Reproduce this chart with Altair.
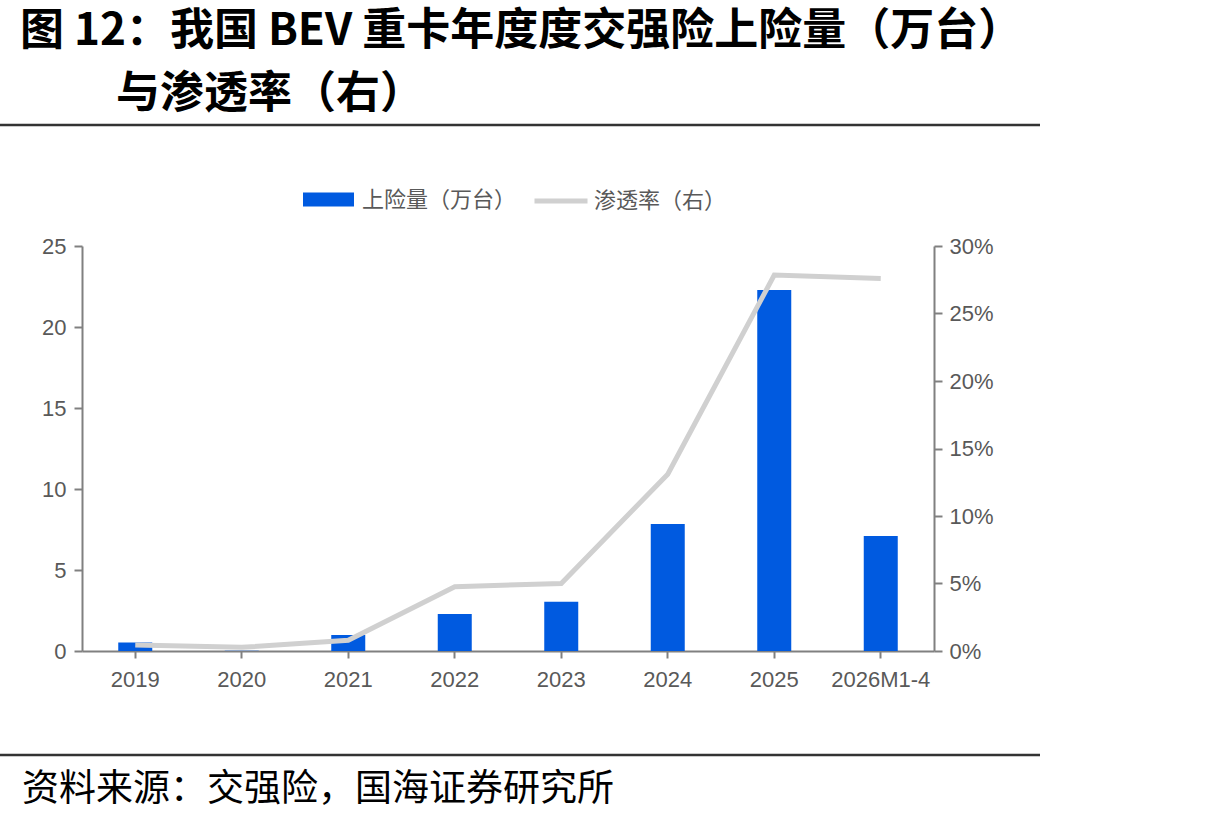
import altair as alt
import pandas as pd

# Annual BEV heavy-truck compulsory insurance registrations and penetration
categories = ["2019", "2020", "2021", "2022", "2023", "2024", "2025", "2026M1-4"]
registrations = [0.52, 0.02, 0.98, 2.28, 3.04, 7.84, 22.28, 7.10]  # 万台
penetration = [0.0044, 0.0027, 0.0080, 0.0476, 0.0500, 0.1310, 0.2785, 0.2760]

bar_name = "上险量（万台）"
line_name = "渗透率（右）"

title_line1 = "图 12：我国 BEV 重卡年度度交强险上险量（万台）"
title_line2 = "与渗透率（右）"
source_text = "资料来源：交强险，国海证券研究所"

W, H = 852, 405
PAD_L, PAD_T = 82, 246
TOTAL_W, TOTAL_H = 1214, 822

df = pd.DataFrame({
    "cat": categories,
    "reg": registrations,
    "pen": penetration,
    "bar_s": [bar_name] * len(categories),
    "line_s": [line_name] * len(categories),
})

AXIS_GRAY = "#808080"
LABEL_GRAY = "#595959"
LATIN = "Liberation Sans"
CJK = "Noto Sans CJK SC"
TICK_FONT = 22

x_enc = alt.X(
    "cat:N",
    sort=categories,
    scale=alt.Scale(paddingInner=0, paddingOuter=0),
    axis=alt.Axis(title=None, labelAngle=0, labelFont=LATIN, labelFontSize=TICK_FONT,
                  labelColor=LABEL_GRAY, domainColor=AXIS_GRAY, domainWidth=2,
                  tickColor=AXIS_GRAY, tickWidth=2, tickSize=7, labelPadding=11),
)

bars = alt.Chart(df).mark_bar(size=34).encode(
    x=x_enc,
    y=alt.Y("reg:Q", scale=alt.Scale(domain=[0, 25]),
            axis=alt.Axis(title=None, values=[0, 5, 10, 15, 20, 25], grid=False,
                          labelFont=LATIN, labelFontSize=TICK_FONT, labelColor=LABEL_GRAY,
                          domainColor=AXIS_GRAY, domainWidth=2, tickColor=AXIS_GRAY,
                          tickWidth=2, tickSize=8, labelPadding=8)),
    fill=alt.Fill("bar_s:N", scale=alt.Scale(range=["#005ae0"]),
                  legend=alt.Legend(orient="none", legendX=221, legendY=-72, title=None,
                                    symbolType="M-1,-0.27L1,-0.27L1,0.27L-1,0.27Z",
                                    symbolSize=2601, symbolStrokeWidth=0,
                                    labelFont=CJK, labelFontSize=22,
                                    labelColor=LABEL_GRAY, labelOffset=8)),
)

line = alt.Chart(df).mark_line(strokeWidth=5).encode(
    x=alt.X("cat:N", sort=categories),
    y=alt.Y("pen:Q", scale=alt.Scale(domain=[0, 0.3]),
            axis=alt.Axis(title=None, orient="right", format=".0%",
                          values=[0, 0.05, 0.1, 0.15, 0.2, 0.25, 0.3], grid=False,
                          labelFont=LATIN, labelFontSize=TICK_FONT, labelColor=LABEL_GRAY,
                          domainColor=AXIS_GRAY, domainWidth=2, tickColor=AXIS_GRAY,
                          tickWidth=2, tickSize=8, labelPadding=7)),
    stroke=alt.Stroke("line_s:N", scale=alt.Scale(range=["#d0d0d0"]),
                      legend=alt.Legend(orient="none", legendX=450, legendY=-74, title=None,
                                        symbolType="stroke", symbolSize=2809,
                                        symbolStrokeWidth=5,
                                        labelFont=CJK, labelFontSize=22,
                                        labelColor=LABEL_GRAY, labelOffset=4)),
)

# Header and footer decorations positioned relative to the plot origin
deco = pd.DataFrame({"t": [title_line1, title_line2, source_text],
                     "k": ["t1", "t2", "src"]})

title1 = alt.Chart(deco[deco.k == "t1"]).mark_text(
    align="left", baseline="middle", font=CJK, fontSize=44, fontWeight="bold", color="#000000"
).encode(text="t:N", x=alt.value(20 - PAD_L), y=alt.value(32 - PAD_T))

title2 = alt.Chart(deco[deco.k == "t2"]).mark_text(
    align="left", baseline="middle", font=CJK, fontSize=44, fontWeight="bold", color="#000000"
).encode(text="t:N", x=alt.value(116 - PAD_L), y=alt.value(95 - PAD_T))

source = alt.Chart(deco[deco.k == "src"]).mark_text(
    align="left", baseline="middle", font=CJK, fontSize=37, color="#000000"
).encode(text="t:N", x=alt.value(22 - PAD_L), y=alt.value(790 - PAD_T))

top_rule = alt.Chart(deco[deco.k == "t1"]).mark_rule(color="#333333", strokeWidth=2.5).encode(
    x=alt.value(0 - PAD_L), x2=alt.value(1040 - PAD_L), y=alt.value(125 - PAD_T))
bottom_rule = alt.Chart(deco[deco.k == "t1"]).mark_rule(color="#333333", strokeWidth=2.5).encode(
    x=alt.value(0 - PAD_L), x2=alt.value(1040 - PAD_L), y=alt.value(755 - PAD_T))

chart = alt.layer(bars, line, title1, title2, source, top_rule, bottom_rule).resolve_scale(
    y="independent"
).properties(
    width=W, height=H,
    autosize=alt.AutoSizeParams(type="none"),
    padding={"left": PAD_L, "top": PAD_T, "right": TOTAL_W - PAD_L - W,
             "bottom": TOTAL_H - PAD_T - H},
    background="white",
).configure_view(stroke=None)

chart.save("out.html", embed_options={"renderer": "svg", "actions": False})
